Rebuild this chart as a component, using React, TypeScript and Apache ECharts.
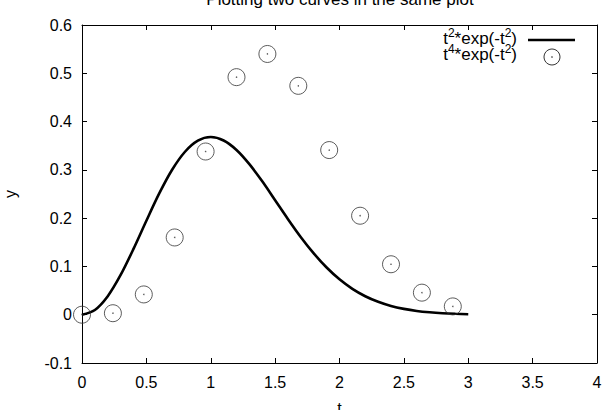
import React, { useEffect, useRef } from "react";
import * as echarts from "echarts";

const titleText = "Plotting two curves in the same plot";
const xName = "t";
const yName = "y";

// solid curve t^2*exp(-t^2)
const curveT = [0, 0.1, 0.2, 0.3, 0.4, 0.5, 0.6, 0.7, 0.8, 0.9, 1.0, 1.1, 1.2, 1.3, 1.4, 1.5, 1.6, 1.7, 1.8, 1.9, 2.0, 2.1, 2.2, 2.3, 2.4, 2.5, 2.6, 2.7, 2.8, 2.9, 3.0];
const curveY = [0, 0.0099, 0.0384, 0.0823, 0.1363, 0.1947, 0.2512, 0.3002, 0.3375, 0.3604, 0.3679, 0.3608, 0.3412, 0.3118, 0.2762, 0.2371, 0.1979, 0.1606, 0.127, 0.0977, 0.0733, 0.0536, 0.0383, 0.0267, 0.0181, 0.0121, 0.0078, 0.005, 0.0031, 0.0019, 0.0011];

// circles t^4*exp(-t^2)
const pointT = [0, 0.24, 0.48, 0.72, 0.96, 1.2, 1.44, 1.68, 1.92, 2.16, 2.4, 2.64, 2.88];
const pointY = [0, 0.0031, 0.042, 0.16, 0.338, 0.492, 0.54, 0.474, 0.341, 0.205, 0.1045, 0.0457, 0.0172];

const FONT = "Liberation Sans, Arial, Helvetica, sans-serif";
const FS = 16;

export default function App() {
  const ref = useRef<HTMLDivElement>(null);
  useEffect(() => {
    if (!ref.current) return;
    const chart = echarts.init(ref.current, null, { renderer: "svg" });
    const curveData = curveT.map((t, i) => [t, curveY[i]]);
    const pointData = pointT.map((t, i) => [t, pointY[i]]);
    const axisCommon = {
      axisLine: { show: true, onZero: false, lineStyle: { color: "#000", width: 1 } },
      axisTick: { show: true, inside: true, length: 5, lineStyle: { color: "#000", width: 1 } },
      splitLine: { show: false },
    };
    const richBase = {
      a: { fontSize: 17, fontFamily: FONT, fill: "#000", verticalAlign: "bottom", lineHeight: 20 },
      s: { fontSize: 12, fontFamily: FONT, fill: "#000", verticalAlign: "top", lineHeight: 12 },
    };
    chart.setOption({
      animation: false,
      backgroundColor: "#fff",
      grid: { left: 82, right: 10, top: 25, bottom: 47, containLabel: false, outerBoundsMode: "none" },
      xAxis: [
        {
          type: "value", min: 0, max: 4, interval: 0.5, position: "bottom",
          name: xName, nameLocation: "middle", nameGap: 37,
          nameTextStyle: { fontSize: FS, fontFamily: FONT, color: "#000" },
          axisLabel: { fontSize: FS, fontFamily: FONT, color: "#000", margin: 11 },
          ...axisCommon,
        },
        {
          type: "value", min: 0, max: 4, interval: 0.5, position: "top",
          axisLabel: { show: false },
          ...axisCommon,
        },
      ],
      yAxis: [
        {
          type: "value", min: -0.1, max: 0.6, interval: 0.1, position: "left",
          name: yName, nameLocation: "middle", nameGap: 64, nameRotate: 90,
          nameTextStyle: { fontSize: FS, fontFamily: FONT, color: "#000" },
          axisLabel: { fontSize: FS, fontFamily: FONT, color: "#000", margin: 10 },
          ...axisCommon,
        },
        {
          type: "value", min: -0.1, max: 0.6, interval: 0.1, position: "right",
          axisLabel: { show: false },
          ...axisCommon,
        },
      ],
      series: [
        {
          type: "line",
          data: curveData,
          showSymbol: false,
          smooth: 0.3,
          lineStyle: { color: "#000", width: 2.6 },
          z: 2,
        },
        {
          type: "scatter",
          data: pointData,
          symbol: "circle",
          symbolSize: 17,
          itemStyle: { color: "rgba(0,0,0,0)", borderColor: "#333", borderWidth: 1 },
          z: 3,
        },
        {
          type: "scatter",
          data: pointData,
          symbol: "circle",
          symbolSize: 1.5,
          itemStyle: { color: "#333" },
          z: 4,
        },
      ],
      graphic: [
        {
          type: "text",
          x: 340, y: 8,
          style: { text: titleText, fontSize: 17, fontFamily: FONT, fill: "#000", textAlign: "center", textVerticalAlign: "bottom" },
        },
        {
          type: "text",
          x: 517, y: 47,
          style: {
            text: "{a|t}{s|2}{a|*exp(-t}{s|2}{a|)}",
            rich: richBase,
            fontSize: 17, fontFamily: FONT, fill: "#000",
            textAlign: "right", textVerticalAlign: "bottom",
          },
        },
        {
          type: "text",
          x: 517, y: 63,
          style: {
            text: "{a|t}{s|4}{a|*exp(-t}{s|2}{a|)}",
            rich: richBase,
            fontSize: 17, fontFamily: FONT, fill: "#000",
            textAlign: "right", textVerticalAlign: "bottom",
          },
        },
        {
          type: "line",
          shape: { x1: 528, y1: 40, x2: 575, y2: 40 },
          style: { stroke: "#000", lineWidth: 2.6 },
        },
        {
          type: "circle",
          shape: { cx: 552, cy: 57, r: 8 },
          style: { fill: "none", stroke: "#333", lineWidth: 1 },
        },
        {
          type: "circle",
          shape: { cx: 552, cy: 57, r: 0.75 },
          style: { fill: "#333" },
        },
      ],
    });
    return () => chart.dispose();
  }, []);
  return <div ref={ref} style={{ position: "fixed", left: 0, top: 0, width: 607, height: 410 }} />;
}
